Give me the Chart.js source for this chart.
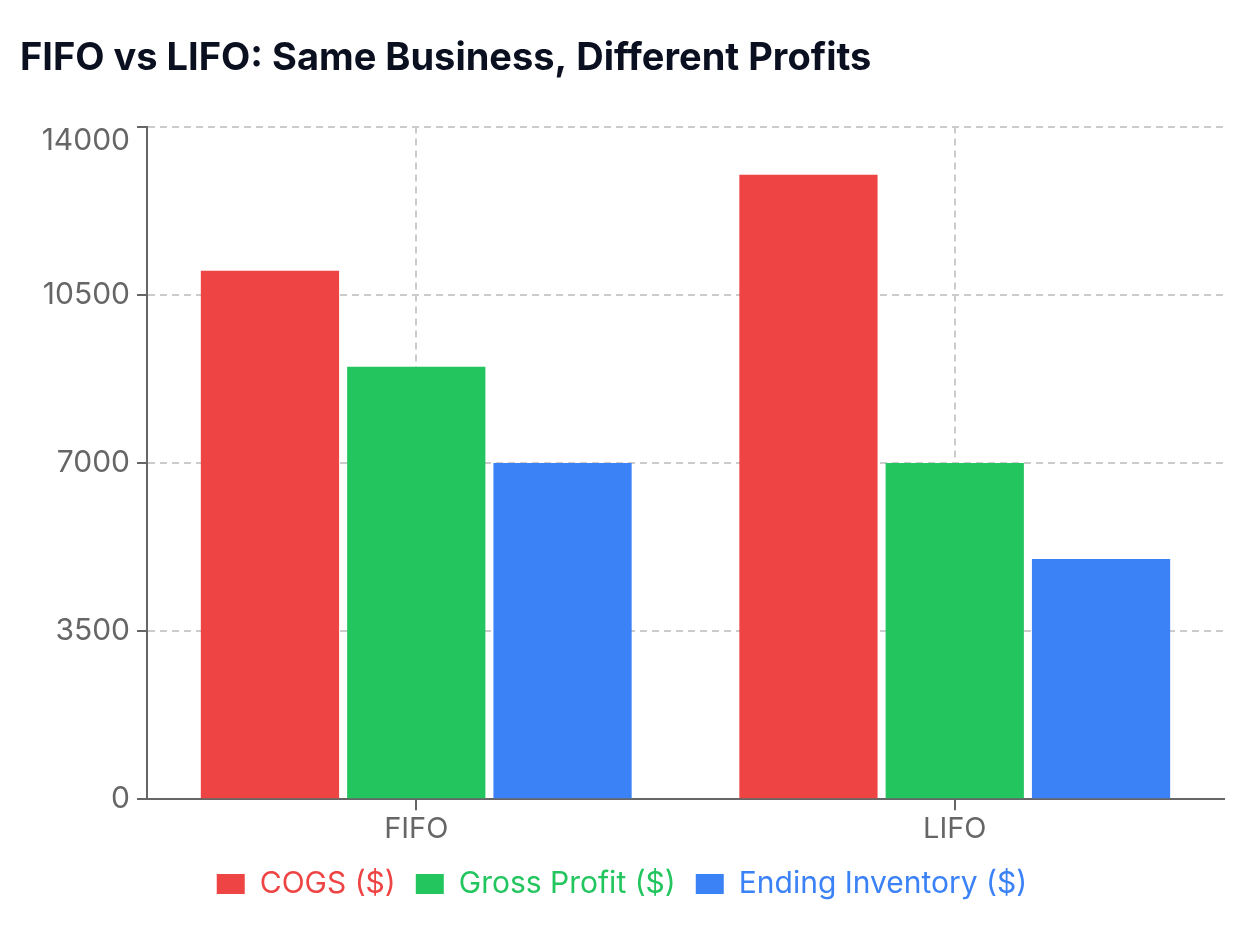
<!DOCTYPE html>
<html>
<head>
<meta charset="utf-8">
<script src="https://cdn.jsdelivr.net/npm/chart.js@4"></script>
<style>
  html, body { margin: 0; padding: 0; background: #fff; }
  #wrap { width: 1248px; height: 930px; }
</style>
</head>
<body>
<div id="wrap"><canvas id="barChart"></canvas></div>
<script>
var methods = ["FIFO", "LIFO"];
var cogs = [11000, 13000];
var grossProfit = [9000, 7000];
var endingInventory = [7000, 5000];
var yTicks = [0, 3500, 7000, 10500, 14000];

var FONT = "Inter, 'Noto Sans', sans-serif";
var GRID = '#cccccc';
var AXIS = '#666666';
var DASH = [7, 5];

var ctx = document.getElementById("barChart").getContext('2d');

var myBarChart = new Chart(ctx, {
    type: 'bar',
    data: {
        labels: methods,
        datasets: [{
            label: "COGS ($)",
            data: cogs,
            backgroundColor: '#EF4444',
            borderWidth: 0
        },
        {
            label: "Gross Profit ($)",
            data: grossProfit,
            backgroundColor: '#22C55E',
            borderWidth: 0
        },
        {
            label: "Ending Inventory ($)",
            data: endingInventory,
            backgroundColor: '#3B82F6',
            borderWidth: 0
        }]
    },
    options: {
        responsive: true,
        maintainAspectRatio: false,
        animation: false,
        categoryPercentage: 0.815,
        barPercentage: 0.945,
        layout: {
            padding: { left: 20, right: 24, top: 0, bottom: 21 }
        },
        scales: {
            x: {
                grid: {
                    offset: false,
                    color: GRID,
                    lineWidth: 2,
                    tickLength: 11,
                    tickColor: AXIS,
                    tickBorderDash: []
                },
                border: { color: AXIS, width: 2, dash: DASH },
                ticks: {
                    color: AXIS,
                    padding: 2,
                    font: { family: FONT, size: 29 }
                }
            },
            // only used to draw the dashed line on the right edge of the plot
            xEdge: {
                type: 'linear',
                position: 'top',
                min: 0,
                max: 1,
                afterBuildTicks: function (scale) {
                    scale.ticks = [{ value: 1 }];
                },
                grid: { color: GRID, lineWidth: 2, drawTicks: false },
                border: { display: false, dash: DASH },
                ticks: { display: false }
            },
            y: {
                min: 0,
                max: 14000,
                afterBuildTicks: function (scale) {
                    scale.ticks = yTicks.map(function (v) { return { value: v }; });
                },
                afterFit: function (scale) {
                    scale.width = 127;
                },
                grid: {
                    color: GRID,
                    lineWidth: 2,
                    tickLength: 10,
                    tickColor: AXIS,
                    tickBorderDash: []
                },
                border: { color: AXIS, width: 2, dash: DASH },
                ticks: {
                    color: AXIS,
                    padding: 7,
                    font: function (c) {
                        // top label sits just below its grid line, as in the original
                        var top = c.tick && c.tick.value === 14000;
                        return { family: FONT, size: 30, lineHeight: top ? 0.95 : 1.2 };
                    },
                    callback: function (value) {
                        return value === 14000 ? ['', String(value)] : String(value);
                    }
                }
            }
        },
        plugins: {
            title: {
                display: true,
                text: "FIFO vs LIFO: Same Business, Different Profits",
                align: 'start',
                color: '#0b1020',
                font: { family: FONT, size: 38, weight: 'bold' },
                padding: { top: 36, bottom: 45 }
            },
            legend: {
                position: 'bottom',
                labels: {
                    boxWidth: 28,
                    boxHeight: 20,
                    padding: 20,
                    font: { family: FONT, size: 30 },
                    generateLabels: function (chart) {
                        var items = Chart.defaults.plugins.legend.labels.generateLabels(chart);
                        items.forEach(function (item) {
                            item.fontColor = item.fillStyle;
                        });
                        return items;
                    }
                }
            },
            tooltip: { enabled: false }
        }
    }
});
</script>
</body>
</html>
